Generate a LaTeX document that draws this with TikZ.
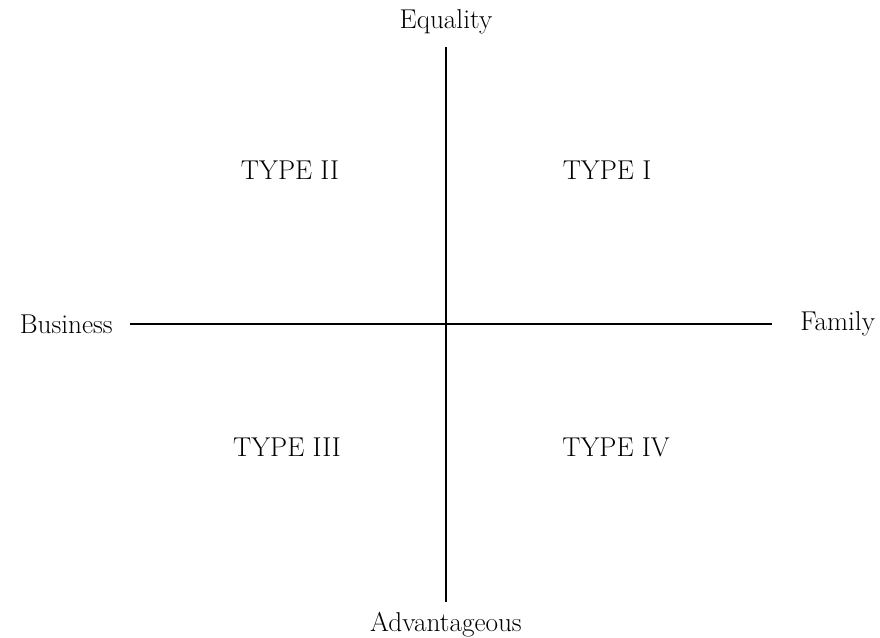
\documentclass[tikz,border=0pt]{standalone}
\usetikzlibrary{positioning}
\begin{document}
\begin{tikzpicture}[
 lbl/.style={font=\fontsize{15.5}{18}\selectfont,inner sep=0pt},
 axis/.style={line width=0.6pt}]
\useasboundingbox (-8.92,-6.28) rectangle (8.68,6.48);
\coordinate (top) at (0,5.54);
\coordinate (bottom) at (0,-5.56);
\coordinate (left) at (-6.32,0);
\coordinate (right) at (6.52,0);
\draw[axis] (top) -- (bottom);
\draw[axis] (left) -- (right);
\node[lbl] (equality) at (0,6.04) {Equality};
\node[lbl] (advantageous) at (0,-6.02) {Advantageous};
\node[lbl,anchor=east] (business) at (-6.66,0) {Business};
\node[lbl,anchor=west] (family) at (7.08,0) {Family};
\node[lbl] (type2) at (-3.12,3.08) {TYPE II};
\node[lbl] (type1) at (3.22,3.08) {TYPE I};
\node[lbl] (type3) at (-3.18,-2.46) {TYPE III};
\node[lbl] (type4) at (3.4,-2.46) {TYPE IV};
\end{tikzpicture}
\end{document}
